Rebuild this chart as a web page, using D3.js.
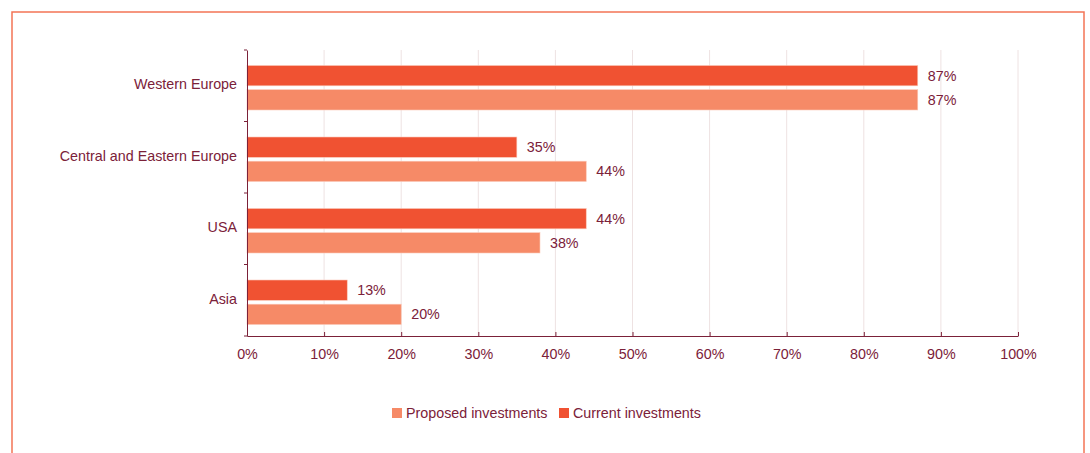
<!DOCTYPE html>
<html>
<head>
<meta charset="utf-8">
<script src="https://cdn.jsdelivr.net/npm/d3@7"></script>
<style>
  html, body { margin: 0; padding: 0; background: #fff; }
  svg { display: block; font-family: "Liberation Sans", Arial, sans-serif; }
</style>
</head>
<body>
<svg id="chart" width="1090" height="453"></svg>
<script>
const regions = ["Western Europe", "Central and Eastern Europe", "USA", "Asia"];
const currentInvestments = [87, 35, 44, 13];
const proposedInvestments = [87, 44, 38, 20];
const xTicks = [0, 10, 20, 30, 40, 50, 60, 70, 80, 90, 100];
const seriesNames = ["Current investments", "Proposed investments"];
const legendOrder = ["Proposed investments", "Current investments"];

const colors = { "Current investments": "#f05232", "Proposed investments": "#f68a67" };
const textColor = "#7b2139";
const fontSize = 14.3;

const svg = d3.select("#chart");

// frame around the chart
svg.append("rect")
  .attr("x", 12).attr("y", 12).attr("width", 1072).attr("height", 460)
  .attr("fill", "none").attr("stroke", "#f37455").attr("stroke-width", 1.5);

const margin = { left: 247, right: 1018, top: 50, bottom: 336 };

const x = d3.scaleLinear().domain([0, 100]).range([margin.left, margin.right]);
const y = d3.scaleBand().domain(regions).range([margin.top, margin.bottom]);
const inner = d3.scaleBand().domain(seriesNames).range([15.5, y.bandwidth() - 11.5]).paddingInner(0.16);

// vertical gridlines
svg.append("g").selectAll("line").data(xTicks.slice(1)).join("line")
  .attr("x1", d => x(d)).attr("x2", d => x(d))
  .attr("y1", margin.top).attr("y2", margin.bottom)
  .attr("stroke", "#eee2e2").attr("stroke-width", 1);

// bars
const rows = regions.map((r, i) => ({
  region: r,
  values: [
    { series: "Current investments", value: currentInvestments[i] },
    { series: "Proposed investments", value: proposedInvestments[i] }
  ]
}));

const groups = svg.append("g").selectAll("g").data(rows).join("g")
  .attr("transform", d => `translate(0,${y(d.region)})`);

groups.selectAll("rect").data(d => d.values).join("rect")
  .attr("x", x(0))
  .attr("y", d => inner(d.series))
  .attr("width", d => x(d.value) - x(0))
  .attr("height", inner.bandwidth())
  .attr("fill", d => colors[d.series])
  .attr("stroke", "#fbc8b8").attr("stroke-width", 0.6);

groups.selectAll("text").data(d => d.values).join("text")
  .attr("x", d => x(d.value) + 10)
  .attr("y", d => inner(d.series) + inner.bandwidth() / 2)
  .attr("dy", "0.35em")
  .attr("fill", textColor)
  .attr("font-size", fontSize)
  .text(d => d.value + "%");

// x axis
const xAxis = svg.append("g")
  .attr("transform", `translate(0,${margin.bottom})`)
  .call(d3.axisBottom(x).tickValues(xTicks).tickFormat(d => d + "%").tickSize(-4).tickSizeOuter(0).tickPadding(12.5));
xAxis.select(".domain").attr("stroke", textColor);
xAxis.selectAll(".tick line").attr("stroke", textColor);
xAxis.selectAll("text").attr("fill", textColor).attr("font-size", fontSize)
  .attr("font-family", "'Liberation Sans', Arial, sans-serif");

// y axis
const yAxis = svg.append("g")
  .attr("transform", `translate(${margin.left},0)`)
  .call(d3.axisLeft(y).tickSize(0).tickPadding(10));
yAxis.select(".domain").attr("stroke", textColor);
yAxis.selectAll("text").attr("fill", textColor).attr("font-size", fontSize)
  .attr("font-family", "'Liberation Sans', Arial, sans-serif")
  .attr("dy", "0.25em");

// category boundary ticks
svg.append("g").selectAll("line")
  .data(regions.map(r => y(r)).concat([margin.bottom]))
  .join("line")
  .attr("x1", margin.left - 3).attr("x2", margin.left)
  .attr("y1", d => d).attr("y2", d => d)
  .attr("stroke", textColor);

// legend
const legend = svg.append("g").attr("transform", "translate(392,413)");
const legendX = [0, 167];
legendOrder.forEach((name, i) => {
  const g = legend.append("g").attr("transform", `translate(${legendX[i]},0)`);
  g.append("rect").attr("x", 0).attr("y", -5).attr("width", 10).attr("height", 10)
    .attr("fill", colors[name]);
  g.append("text").attr("x", 14).attr("y", 0).attr("dy", "0.35em")
    .attr("fill", textColor).attr("font-size", fontSize).text(name);
});
</script>
</body>
</html>
